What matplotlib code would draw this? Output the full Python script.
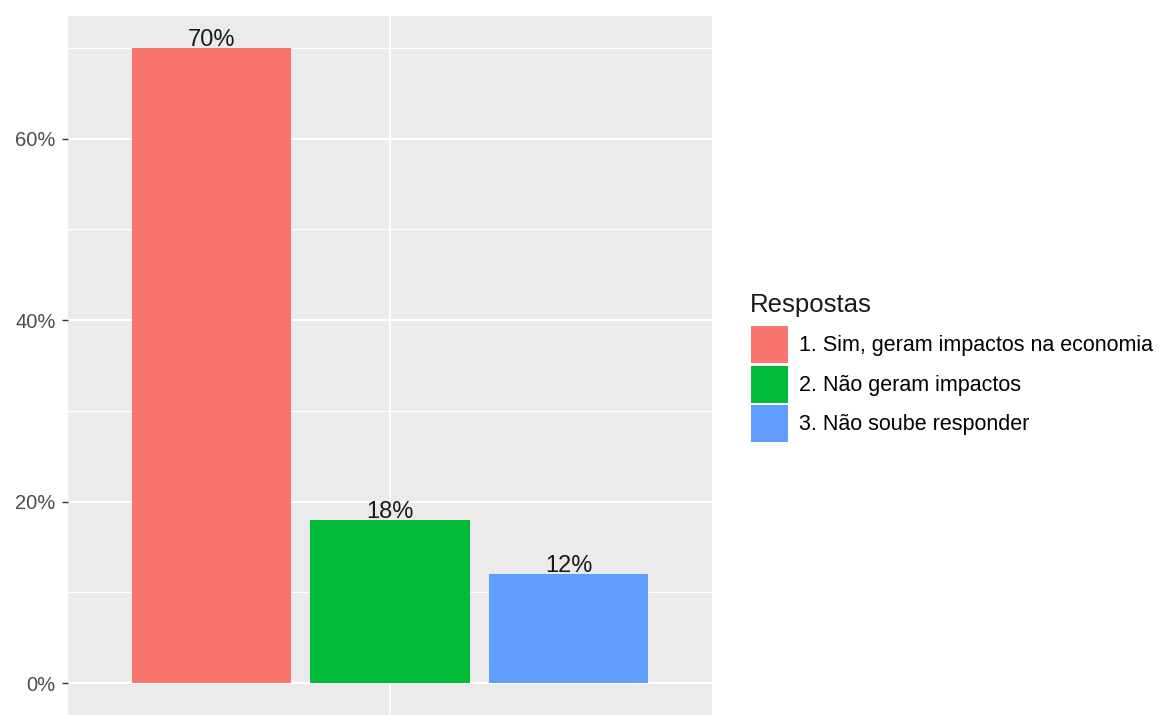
import numpy as np
import matplotlib
matplotlib.use("Agg")
import matplotlib.pyplot as plt
from matplotlib.ticker import FuncFormatter, MultipleLocator

plt.rcParams["font.family"] = ["Liberation Sans", "DejaVu Sans"]

# survey answers (percent of respondents)
respostas = ["1. Sim, geram impactos na economia",
             "2. Não geram impactos",
             "3. Não soube responder"]
valores = [70, 18, 12]
cores = ["#F8766D", "#00BA38", "#619CFF"]
yticks = [0, 20, 40, 60]

fig = plt.figure(figsize=[11.6, 7.15], dpi=100)
ax = fig.add_axes([68/1160, 0.0, (712-68)/1160, 1 - 16/715])
ax.set_facecolor("#EBEBEB")

pos = np.arange(len(valores))
bars = []
for i in range(len(valores)):
    b = ax.bar(pos[i], valores[i], width=0.89, color=cores[i], label=respostas[i], zorder=3)
    bars.append(b)
    ax.text(pos[i], valores[i] + 0.25, "%d%%" % valores[i], ha="center", va="baseline",
            fontsize=17, color="#1A1A1A", zorder=4)

## axis limits (ggplot-style expansion)
ax.set_xlim(-0.8, 2.8)
ax.set_ylim(-3.5, 73.5)

## grid
ax.yaxis.set_minor_locator(MultipleLocator(10))
ax.set_yticks(yticks)
ax.yaxis.set_major_formatter(FuncFormatter(lambda v, p: "%d%%" % v))
ax.set_xticks([1])
ax.set_xticklabels([""])
ax.grid(which="major", color="white", linewidth=1.5, zorder=0)
ax.grid(which="minor", axis="y", color="white", linewidth=0.8, zorder=0)
ax.set_axisbelow(True)
for s in ax.spines.values():
    s.set_visible(False)
ax.tick_params(axis="y", which="major", length=4, width=1, color="#333333",
               labelsize=14.5, labelcolor="#4D4D4D", pad=5)
ax.tick_params(axis="y", which="minor", length=0)
ax.tick_params(axis="x", length=4, width=1, color="#333333")

## legend (title drawn separately so the gap above the keys can be set)
fig.text(750/1160, 1 - 312/715, "Respostas", fontsize=18.5, color="#1A1A1A",
         ha="left", va="baseline")
leg = fig.legend(handles=[b[0] for b in bars], labels=respostas,
                 loc="upper left", bbox_to_anchor=(751/1160, 1 - 326/715),
                 frameon=False, fontsize=15.5,
                 handlelength=1.7, handleheight=2.27, labelspacing=0.12,
                 handletextpad=0.55, borderpad=0, borderaxespad=0)

fig.savefig("out.png", dpi=100)
